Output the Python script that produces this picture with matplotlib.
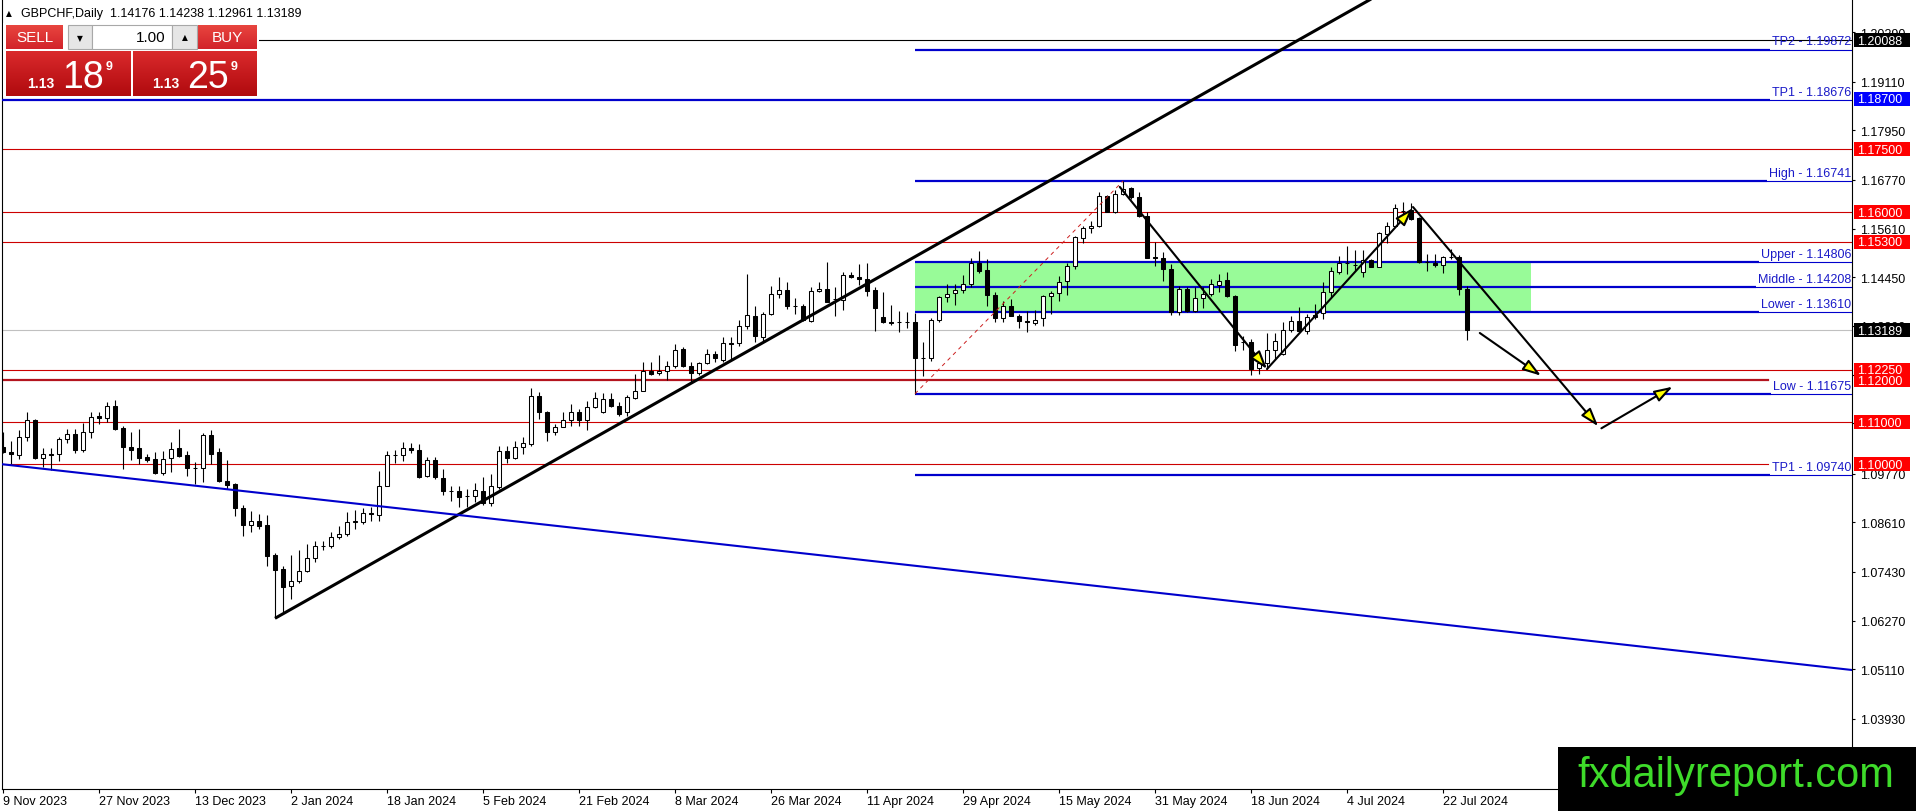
import numpy as np
import matplotlib
matplotlib.use("Agg")
import matplotlib.pyplot as plt
from matplotlib.patches import Rectangle, FancyArrowPatch
from matplotlib.colors import LinearSegmentedColormap

plt.rcParams['font.family'] = ['Liberation Sans', 'DejaVu Sans']

W, H = 1916, 812

# GBPCHF daily candles, 9 Nov 2023 .. 25 Jul 2024 (one entry per bar)
opens = [1.10399, 1.10296, 1.10216, 1.10637, 1.11050, 1.10153, 1.10232, 1.10232, 1.10589, 1.10716,
         1.10343, 1.10756, 1.11137, 1.11089, 1.11375, 1.10859, 1.10407, 1.10375, 1.10161, 1.10121,
         1.09780, 1.10137, 1.10375, 1.10216, 1.09907, 1.09899, 1.10692, 1.10280, 1.09589, 1.09526,
         1.08946, 1.08557, 1.08637, 1.08549, 1.07843, 1.07501, 1.07089, 1.07208, 1.07462, 1.07755,
         1.08057, 1.08041, 1.08255, 1.08327, 1.08612, 1.08628, 1.08827, 1.08795, 1.09486, 1.10224,
         1.10216, 1.10375, 1.10335, 1.09724, 1.10105, 1.09660, 1.09367, 1.09367, 1.09239, 1.09232,
         1.09367, 1.09073, 1.09462, 1.10319, 1.10144, 1.10398, 1.10478, 1.11629, 1.11248, 1.10772,
         1.10891, 1.11057, 1.11232, 1.11057, 1.11351, 1.11232, 1.11550, 1.11375, 1.11250, 1.11574,
         1.11748, 1.12225, 1.12169, 1.12209, 1.12328, 1.12741, 1.12344, 1.12161, 1.12399, 1.12614,
         1.12479, 1.12876, 1.12876, 1.13280, 1.13519, 1.13018, 1.13566, 1.14042, 1.14138, 1.13773,
         1.13773, 1.13415, 1.14114, 1.14169, 1.13931, 1.13908, 1.14503, 1.14447, 1.14408, 1.14146,
         1.13495, 1.13376, 1.13384, 1.13376, 1.13376, 1.12534, 1.12534, 1.13439, 1.13971, 1.14066,
         1.14153, 1.14288, 1.14781, 1.14614, 1.14034, 1.13471, 1.13757, 1.13534, 1.13399, 1.13360,
         1.13471, 1.13995, 1.14066, 1.14368, 1.14709, 1.15376, 1.15614, 1.15678, 1.16392, 1.16011,
         1.16432, 1.16567, 1.16352, 1.15900, 1.14923, 1.14900, 1.14646, 1.13614, 1.14169, 1.13653,
         1.13947, 1.14050, 1.14273, 1.14384, 1.13995, 1.12915, 1.12915, 1.12280, 1.12407, 1.12725,
         1.12622, 1.13201, 1.13416, 1.13177, 1.13551, 1.13590, 1.14106, 1.14567, 1.14789, 1.14741,
         1.14567, 1.14868, 1.14701, 1.15479, 1.15678, 1.16035, 1.16051, 1.15852, 1.14821, 1.14789,
         1.14741, 1.14940, 1.14940, 1.14176]
highs = [1.10756, 1.10557, 1.10819, 1.11232, 1.11073, 1.10383, 1.10383, 1.10653, 1.10835, 1.10835,
         1.10970, 1.11232, 1.11248, 1.11470, 1.11526, 1.10915, 1.10756, 1.10835, 1.10240, 1.10280,
         1.10319, 1.10518, 1.10835, 1.10319, 1.10042, 1.10732, 1.10811, 1.10375, 1.10097, 1.09549,
         1.09025, 1.08891, 1.08811, 1.08787, 1.07882, 1.07581, 1.07835, 1.07954, 1.08097, 1.08160,
         1.08176, 1.08390, 1.08517, 1.08866, 1.08914, 1.08954, 1.08970, 1.09827, 1.10319, 1.10335,
         1.10533, 1.10494, 1.10478, 1.10160, 1.10160, 1.09883, 1.09486, 1.09486, 1.09406, 1.09549,
         1.09684, 1.09763, 1.10422, 1.10438, 1.10557, 1.10637, 1.11803, 1.11708, 1.11272, 1.10954,
         1.11232, 1.11430, 1.11311, 1.11510, 1.11708, 1.11684, 1.11684, 1.11470, 1.11645, 1.12145,
         1.12423, 1.12423, 1.12606, 1.12463, 1.12860, 1.12780, 1.12439, 1.12439, 1.12741, 1.12701,
         1.13018, 1.13018, 1.13439, 1.14527, 1.13757, 1.13614, 1.14249, 1.14447, 1.14328, 1.13947,
         1.13812, 1.14225, 1.14328, 1.14804, 1.14209, 1.14566, 1.14582, 1.14765, 1.14781, 1.14209,
         1.14090, 1.13788, 1.13654, 1.13630, 1.13598, 1.12899, 1.13471, 1.14011, 1.14288, 1.14288,
         1.14503, 1.14900, 1.15082, 1.14884, 1.14090, 1.13891, 1.13931, 1.13574, 1.13653, 1.13677,
         1.14034, 1.14130, 1.14471, 1.14781, 1.15439, 1.15678, 1.15797, 1.16471, 1.16408, 1.16535,
         1.16741, 1.16590, 1.16487, 1.16011, 1.15281, 1.15042, 1.14765, 1.14233, 1.14209, 1.14209,
         1.14209, 1.14407, 1.14527, 1.14567, 1.14027, 1.13058, 1.12979, 1.12661, 1.13122, 1.13122,
         1.13376, 1.13535, 1.13733, 1.13574, 1.13812, 1.14328, 1.14686, 1.14963, 1.15186, 1.15098,
         1.15098, 1.14884, 1.15535, 1.15757, 1.16194, 1.16249, 1.16218, 1.15876, 1.15003, 1.15003,
         1.14963, 1.15122, 1.14979, 1.14238]
lows = [1.10264, 1.10002, 1.10121, 1.10557, 1.10121, 1.09922, 1.09867, 1.10081, 1.10494, 1.10256,
        1.10280, 1.10621, 1.10954, 1.11010, 1.10819, 1.09883, 1.10105, 1.10002, 1.10042, 1.09764,
        1.09748, 1.09803, 1.10176, 1.09724, 1.09526, 1.09565, 1.10002, 1.09581, 1.09407, 1.08756,
        1.08295, 1.08390, 1.08454, 1.07581, 1.06327, 1.06469, 1.06787, 1.07168, 1.07422, 1.07676,
        1.07950, 1.07993, 1.08216, 1.08295, 1.08454, 1.08573, 1.08652, 1.08652, 1.09470, 1.10017,
        1.10081, 1.10264, 1.09660, 1.09684, 1.09644, 1.09271, 1.09129, 1.08970, 1.08970, 1.09089,
        1.09033, 1.09010, 1.09406, 1.10025, 1.10121, 1.10240, 1.10438, 1.11073, 1.10557, 1.10700,
        1.10875, 1.10914, 1.10914, 1.10811, 1.11335, 1.11220, 1.11351, 1.11150, 1.11150, 1.11550,
        1.11740, 1.12121, 1.12121, 1.12010, 1.12288, 1.12320, 1.11947, 1.12129, 1.12383, 1.12423,
        1.12423, 1.12503, 1.12820, 1.13217, 1.12899, 1.12939, 1.13550, 1.13947, 1.13693, 1.13574,
        1.13415, 1.13391, 1.14090, 1.13852, 1.13534, 1.13677, 1.14423, 1.14265, 1.14011, 1.13161,
        1.13360, 1.13312, 1.13138, 1.13250, 1.11675, 1.12105, 1.12463, 1.13376, 1.13852, 1.13796,
        1.14066, 1.14225, 1.14542, 1.13772, 1.13376, 1.13376, 1.13518, 1.13233, 1.13137, 1.13320,
        1.13296, 1.13574, 1.13891, 1.14034, 1.14646, 1.15265, 1.15503, 1.15638, 1.15995, 1.15979,
        1.16408, 1.16313, 1.15876, 1.14900, 1.14725, 1.14368, 1.13558, 1.13558, 1.13629, 1.13629,
        1.13709, 1.14011, 1.14090, 1.13971, 1.12701, 1.12717, 1.12130, 1.12145, 1.12264, 1.12503,
        1.12606, 1.13138, 1.13161, 1.13098, 1.13455, 1.13455, 1.13971, 1.14527, 1.14527, 1.14606,
        1.14447, 1.14686, 1.14686, 1.15265, 1.15662, 1.15757, 1.15821, 1.14789, 1.14606, 1.14686,
        1.14551, 1.14884, 1.14027, 1.12961]
closes = [1.10280, 1.10232, 1.10637, 1.11050, 1.10145, 1.10232, 1.10224, 1.10597, 1.10716, 1.10343,
          1.10756, 1.11113, 1.11089, 1.11375, 1.10835, 1.10399, 1.10343, 1.10145, 1.10097, 1.09780,
          1.10121, 1.10359, 1.10200, 1.09899, 1.09899, 1.10692, 1.10248, 1.09589, 1.09502, 1.08946,
          1.08557, 1.08637, 1.08533, 1.07819, 1.07485, 1.07081, 1.07208, 1.07462, 1.07755, 1.08041,
          1.08050, 1.08255, 1.08327, 1.08612, 1.08636, 1.08827, 1.08819, 1.09486, 1.10224, 1.10216,
          1.10375, 1.10335, 1.09684, 1.10105, 1.09684, 1.09367, 1.09359, 1.09208, 1.09232, 1.09390,
          1.09073, 1.09486, 1.10319, 1.10144, 1.10398, 1.10494, 1.11629, 1.11232, 1.10772, 1.10891,
          1.11057, 1.11232, 1.11057, 1.11351, 1.11565, 1.11550, 1.11375, 1.11192, 1.11590, 1.11748,
          1.12225, 1.12145, 1.12209, 1.12328, 1.12717, 1.12344, 1.12169, 1.12399, 1.12614, 1.12518,
          1.12876, 1.12868, 1.13280, 1.13550, 1.13042, 1.13566, 1.14042, 1.14138, 1.13773, 1.13765,
          1.13431, 1.14114, 1.14169, 1.13868, 1.13923, 1.14503, 1.14447, 1.14408, 1.14130, 1.13717,
          1.13376, 1.13368, 1.13376, 1.13384, 1.12518, 1.12526, 1.13439, 1.13971, 1.14050, 1.14153,
          1.14288, 1.14781, 1.14606, 1.14034, 1.13471, 1.13757, 1.13534, 1.13399, 1.13391, 1.13439,
          1.13995, 1.14066, 1.14344, 1.14709, 1.15400, 1.15614, 1.15678, 1.16376, 1.16011, 1.16432,
          1.16551, 1.16352, 1.15900, 1.14908, 1.14915, 1.14646, 1.13614, 1.14169, 1.13653, 1.13947,
          1.14050, 1.14288, 1.14368, 1.13995, 1.12844, 1.12907, 1.12264, 1.12399, 1.12725, 1.12939,
          1.13201, 1.13416, 1.13177, 1.13495, 1.13495, 1.14106, 1.14590, 1.14789, 1.14781, 1.14749,
          1.14868, 1.14701, 1.15495, 1.15678, 1.16091, 1.16027, 1.15837, 1.14805, 1.14813, 1.14741,
          1.14940, 1.14932, 1.14170, 1.13189]

# time axis labels, one every 12 bars
date_labels = ["9 Nov 2023", "27 Nov 2023", "13 Dec 2023", "2 Jan 2024", "18 Jan 2024",
               "5 Feb 2024", "21 Feb 2024", "8 Mar 2024", "26 Mar 2024", "11 Apr 2024",
               "29 Apr 2024", "15 May 2024", "31 May 2024", "18 Jun 2024", "4 Jul 2024",
               "22 Jul 2024"]
label_step = 12

price_ticks = [1.20290, 1.19110, 1.17950, 1.16770, 1.15610, 1.14450, 1.13290, 1.12130,
               1.10970, 1.09770, 1.08610, 1.07430, 1.06270, 1.05110, 1.03930]

# support / resistance levels
red_levels = [1.17500, 1.16000, 1.15300, 1.12250, 1.11000]
red_cut_levels = [1.12000, 1.10000]
black_level = 1.20088
last_price = closes[-1]

# range tool levels (anchored at the swing low bar)
range_names = ["TP2", "TP1", "High", "Upper", "Middle", "Lower", "Low", "TP1"]
range_levels = [1.19872, 1.18676, 1.16741, 1.14806, 1.14208, 1.13610, 1.11675, 1.09740]
range_start = [114, -5, 114, 114, 114, 114, 114, 114]
box_end_bar = 191

# drawn trendlines and arrows (bar index, price)
black_trend = ([34, 133.4], [1.06327, 1.17027])
blue_trend = ([-0.375, 231.125], [1.10002, 1.05096])
swing_dash = ([114, 140], [1.11675, 1.16741])
arrows = [((139.6, 1.16600), (158.0, 1.12264)),
          ((158.0, 1.12264), (176.25, 1.16099)),
          ((176.25, 1.16122), (199.4, 1.10900)),
          ((199.8, 1.10852), (208.7, 1.11843)),
          ((184.6, 1.13122), (192.25, 1.12105))]

# price tags on the right scale
tag_levels = [1.20088, 1.18700, 1.17500, 1.16000, 1.15300, 1.13189, 1.12250, 1.12000, 1.11000, 1.10000]
tag_colors = ['black', '#0000FF', '#FF0000', '#FF0000', '#FF0000', 'black',
              '#FF0000', '#FF0000', '#FF0000', '#FF0000']

RED = '#CC0000'
BLUE = '#0000CC'

fig = plt.figure(figsize=(W / 100, H / 100), dpi=100)
ax = fig.add_axes([2 / W, 22 / H, 1850 / W, 790 / H])
XMIN, XMAX = -0.125, 231.125
ax.set_xlim(XMIN, XMAX)
ax.set_ylim(1.02262, 1.21076)

# horizontal levels
for lv in red_levels:
    ax.plot([XMIN - 5, XMAX], [lv, lv], color=RED, lw=0.8, zorder=2)
ax.plot([XMIN - 5, 220.6], [red_cut_levels[0]] * 2, color='#B4141E', lw=1.6, zorder=2)
ax.plot([XMIN - 5, 220.6], [red_cut_levels[1]] * 2, color=RED, lw=0.8, zorder=2)
ax.plot([XMIN - 5, XMAX], [black_level] * 2, color='black', lw=0.8, zorder=2)
ax.plot([XMIN - 5, XMAX], [last_price] * 2, color='#C0C0C0', lw=0.8, zorder=2)

# green channel box
ax.add_patch(Rectangle((range_start[3], range_levels[5]), box_end_bar - range_start[3],
                       range_levels[3] - range_levels[5], fc='#98FB98', ec='none', zorder=1))

# range labels, lines are thick up to the label and thin under it
label_tr = matplotlib.transforms.blended_transform_factory(ax.transAxes, ax.transData)
texts = []
for name, lv in zip(range_names, range_levels):
    t = ax.text(0.9995, lv + 0.0005, f"{name} - {lv:.5f}", transform=label_tr, ha='right',
                va='bottom', fontsize=9, color='#1A1AC8', zorder=3)
    texts.append(t)
fig.canvas.draw()
rend = fig.canvas.get_renderer()
inv = ax.transData.inverted()
for t, lv, st in zip(texts, range_levels, range_start):
    bb = t.get_window_extent(renderer=rend)
    xe = inv.transform((bb.x0 - 2, 0))[0]
    ax.plot([st, xe], [lv, lv], color=BLUE, lw=1.6, zorder=3, solid_capstyle='butt')
    ax.plot([xe, XMAX], [lv, lv], color=BLUE, lw=0.8, zorder=3)

# candles
xs = np.arange(len(opens))
o, h, l, c = (np.array(v) for v in (opens, highs, lows, closes))
ax.vlines(xs, l, h, color='black', lw=0.8, zorder=4)
body = np.maximum(np.abs(c - o), 1e-6)
ax.bar(xs, body, bottom=np.minimum(o, c), width=0.56,
       color=np.where(c >= o, 'white', 'black'), edgecolor='black', linewidth=0.75, zorder=5)

# trendlines
bx, by = black_trend
slope = (by[1] - by[0]) / (bx[1] - bx[0])
ax.plot([bx[0], 180], [by[0], by[0] + slope * (180 - bx[0])], color='black', lw=2.2, zorder=6,
        solid_capstyle='butt')
ux, uy = blue_trend
ax.plot(ux, uy, color=BLUE, lw=1.5, zorder=6)
ax.plot(swing_dash[0], swing_dash[1], color='#CC2020', lw=0.7, ls=(0, (4, 4)), zorder=6)

for p0, p1 in arrows:
    ax.add_patch(FancyArrowPatch(p0, p1, arrowstyle='-|>,head_length=11,head_width=3.6',
                                 mutation_scale=1, fc='#FFFF00', ec='black', lw=1.5,
                                 shrinkA=0, shrinkB=0, zorder=7))

# axes styling (MT4 look)
ax.spines['top'].set_visible(False)
for side in ('left', 'bottom', 'right'):
    ax.spines[side].set_linewidth(0.8)
ax.yaxis.tick_right()
ax.set_yticks(price_ticks)
ax.set_yticklabels([f"{v:.5f}" for v in price_ticks])
ax.tick_params(axis='y', direction='out', length=2.5, pad=3, labelsize=9, width=0.8)
tick_pos = [i * label_step for i in range(len(date_labels))]
ax.set_xticks(tick_pos)
ax.set_xticklabels(date_labels, ha='left')
ax.tick_params(axis='x', direction='out', length=3, pad=1.5, labelsize=9, width=0.8)
for lab in ax.get_xticklabels():
    lab.set_horizontalalignment('left')

# overlay in image pixels (y down)
ov = fig.add_axes([0, 0, 1, 1], zorder=20)
ov.set_xlim(0, W)
ov.set_ylim(H, 0)
ov.axis('off')


def gradient(x0, y0, x1, y1, c_top, c_bot):
    cm = LinearSegmentedColormap.from_list('g', [c_top, c_bot])
    ov.imshow(np.linspace(0, 1, 64).reshape(-1, 1), cmap=cm, extent=(x0, x1, y1, y0),
              aspect='auto', zorder=2, interpolation='bilinear')


# price tags
for lv, col in zip(tag_levels, tag_colors):
    yd = ax.transData.transform((0, lv))[1]
    yp = H - yd
    ov.add_patch(Rectangle((1854, yp - 7), 56, 14, fc=col, ec='none', zorder=3))
    ov.text(1857, yp + 0.5, f"{lv:.5f}", color='white', fontsize=9, va='center', ha='left', zorder=4)

# header
ov.text(6, 14, '\u25b2', fontsize=5.5, family='DejaVu Sans', va='center', ha='left')
ov.text(21, 14, f"GBPCHF,Daily  {opens[-1]:.5f} {highs[-1]:.5f} {lows[-1]:.5f} {closes[-1]:.5f}",
        fontsize=9, va='center', ha='left')

# one click trading panel
ov.add_patch(Rectangle((3, 24), 256, 74, fc='white', ec='none', zorder=1))
gradient(6, 26, 63, 50, '#E8453F', '#D2232A')
gradient(6, 52, 131, 97, '#DA2A2C', '#B00A0E')
gradient(198, 26, 257, 50, '#E8453F', '#D2232A')
gradient(133, 52, 257, 97, '#DA2A2C', '#B00A0E')
ov.add_patch(Rectangle((68, 26), 24, 24, fc='#E6E6E6', ec='#A8A8A8', lw=0.8, zorder=3))
ov.add_patch(Rectangle((92, 26), 80, 24, fc='white', ec='#A8A8A8', lw=0.8, zorder=3))
ov.add_patch(Rectangle((172, 26), 25, 24, fc='#E6E6E6', ec='#A8A8A8', lw=0.8, zorder=3))
ov.text(80, 38.5, '\u25bc', fontsize=5.5, family='DejaVu Sans', ha='center', va='center', zorder=4)
ov.text(184.5, 37.5, '\u25b2', fontsize=5.5, family='DejaVu Sans', ha='center', va='center', zorder=4)
ov.text(166, 38.5, '1.00', fontsize=11, ha='right', va='center', zorder=4)
ov.text(34.5, 38.5, 'SELL', fontsize=11, color='white', ha='center', va='center', zorder=4)
ov.text(227.5, 38.5, 'BUY', fontsize=11, color='white', ha='center', va='center', zorder=4)
for x_small, x_big, x_sup, big, sup in ((27, 62, 106, '18', '9'), (152, 187, 231, '25', '9')):
    ov.text(x_small, 87.5, '1.13', fontsize=10, fontweight='bold', color='white', va='baseline', zorder=4)
    ov.text(x_big, 87.5, big, fontsize=27, color='white', va='baseline', zorder=4)
    ov.text(x_sup, 70, sup, fontsize=9, fontweight='bold', color='white', va='baseline', zorder=4)

# watermark
ov.add_patch(Rectangle((1558, 748), W - 1558, H - 748, fc='black', ec='none', zorder=5))
ov.text(1736, 787, 'fxdailyreport.com', color='#3EDB2A', fontsize=30, ha='center',
        va='baseline', zorder=6)

ov.set_xlim(0, W)
ov.set_ylim(H, 0)

fig.savefig('out.png', dpi=100)
